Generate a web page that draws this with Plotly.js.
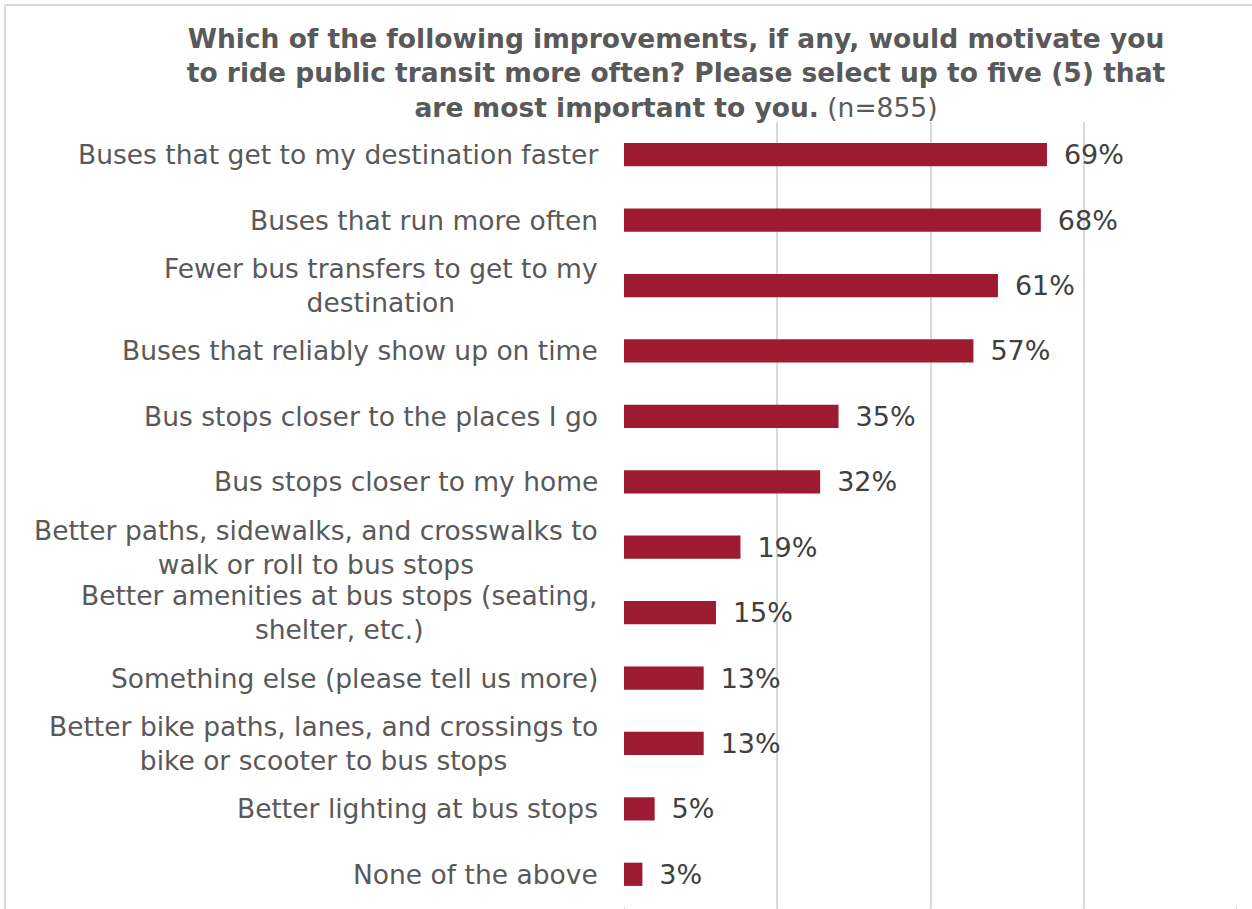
<!DOCTYPE html>
<html>
<head>
<meta charset="utf-8">
<script src="https://cdn.plot.ly/plotly-3.0.1.min.js"></script>
<style>
  html, body { margin: 0; padding: 0; background: #ffffff; }
  #chart { width: 1252px; height: 909px; }
</style>
</head>
<body>
<div id="chart"></div>
<script>
const categories = [
  "Buses that get to my destination faster",
  "Buses that run more often",
  "Fewer bus transfers to get to my<br>destination",
  "Buses that reliably show up on time",
  "Bus stops closer to the places I go",
  "Bus stops closer to my home",
  "Better paths, sidewalks, and crosswalks to<br>walk or roll to bus stops",
  "Better amenities at bus stops (seating,<br>shelter, etc.)",
  "Something else (please tell us more)",
  "Better bike paths, lanes, and crossings to<br>bike or scooter to bus stops",
  "Better lighting at bus stops",
  "None of the above"
];
const values = [69, 68, 61, 57, 35, 32, 19, 15, 13, 13, 5, 3];
const xTicks = [0, 25, 50, 75, 100];

const titleText = "<b>Which of the following improvements, if any, would motivate you<br>to ride public transit more often? Please select up to five (5) that<br>are most important to you.</b> (n=855)";

const FONT = "DejaVu Sans, Verdana, sans-serif";

const trace = {
  type: "bar",
  orientation: "h",
  y: categories,
  x: values,
  marker: { color: "#9E1A31" },
  texttemplate: "\u00a0\u2009%{x}%",
  textposition: "outside",
  constraintext: "none",
  cliponaxis: false,
  textfont: { family: FONT, size: 27, color: "#404040" },
  hoverinfo: "skip"
};

const L = 624, R = 1237, T = 122, B = 907, W = 1252, H = 909;
const pw = R - L, ph = B - T;

// category labels, centred line by line, right edge next to the plot
const labelAnnotations = categories.map(c => ({
  text: c,
  xref: "paper",
  yref: "y",
  x: (600 - L) / pw,
  y: c,
  xanchor: "right",
  yanchor: "middle",
  align: "center",
  showarrow: false,
  font: { family: FONT, size: 26.5, color: "#595959" }
}));

const gridExt = xTicks.map(t => ({
  type: "line", xref: "x", yref: "paper",
  x0: t, x1: t, y0: 0, y1: (B - H) / ph,
  line: { color: "#d9d9d9", width: 2 }
}));

const layout = {
  width: W,
  height: H,
  margin: { l: L, r: W - R, t: T, b: H - B, pad: 0 },
  paper_bgcolor: "#ffffff",
  plot_bgcolor: "#ffffff",
  showlegend: false,
  bargap: 0.645,
  font: { family: FONT, color: "#595959" },
  title: {
    text: titleText,
    x: 676 / W,
    xref: "container",
    xanchor: "center",
    y: 1 - 48 / H,
    yref: "container",
    yanchor: "top",
    font: { family: FONT, size: 26.5, color: "#595959" }
  },
  xaxis: {
    range: [0, 100],
    tickvals: xTicks,
    showticklabels: false,
    showgrid: true,
    gridcolor: "#d9d9d9",
    gridwidth: 2,
    zeroline: false,
    showline: false,
    fixedrange: true
  },
  yaxis: {
    type: "category",
    autorange: "reversed",
    showgrid: false,
    zeroline: false,
    showline: false,
    ticks: "",
    showticklabels: false,
    fixedrange: true
  },
  annotations: labelAnnotations,
  shapes: [
    { type: "line", xref: "paper", yref: "paper",
      x0: (5 - L) / pw, x1: (W + 5 - L) / pw, y0: (B - 5) / ph, y1: (B - 5) / ph,
      line: { color: "#d9d9d9", width: 2 } },
    { type: "line", xref: "paper", yref: "paper",
      x0: (5 - L) / pw, x1: (5 - L) / pw, y0: (B - 5) / ph, y1: (B - H - 5) / ph,
      line: { color: "#d9d9d9", width: 2 } }
  ].concat(gridExt)
};

Plotly.newPlot("chart", [trace], layout, { displayModeBar: false, staticPlot: true });
</script>
</body>
</html>
